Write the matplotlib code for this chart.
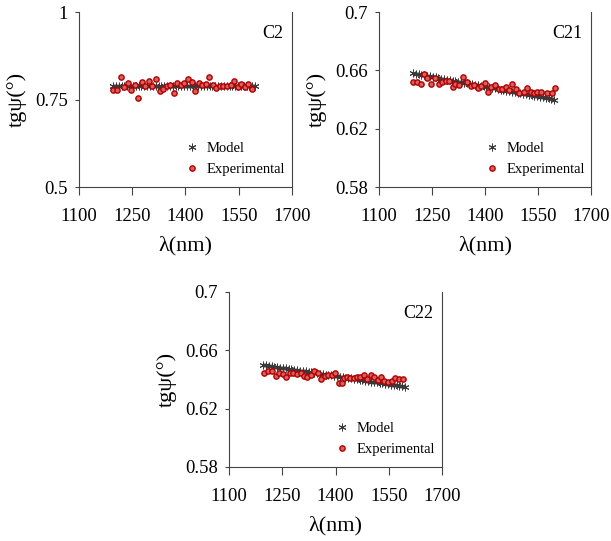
import matplotlib
matplotlib.use("Agg")
import matplotlib.pyplot as plt

plt.rcParams['font.family'] = ['Liberation Serif', 'DejaVu Serif']

# model wavelengths (nm), shared by all three panels
model_x = [1196, 1204, 1212, 1220, 1228, 1236, 1244, 1252, 1260, 1268,
           1276, 1284, 1292, 1300, 1308, 1316, 1324, 1332, 1340, 1348,
           1356, 1364, 1372, 1380, 1388, 1396, 1404, 1412, 1420, 1428,
           1436, 1444, 1452, 1460, 1468, 1476, 1484, 1492, 1500, 1508,
           1516, 1524, 1532, 1540, 1548, 1556, 1564, 1572, 1580, 1588, 1596]

c2_model = [0.789, 0.789, 0.789, 0.789, 0.789, 0.789, 0.789, 0.789, 0.789, 0.789,
            0.789, 0.789, 0.789, 0.789, 0.789, 0.789, 0.789, 0.789, 0.789, 0.789,
            0.789, 0.789, 0.789, 0.789, 0.789, 0.789, 0.789, 0.789, 0.789, 0.789,
            0.789, 0.789, 0.789, 0.789, 0.789, 0.789, 0.789, 0.789, 0.789, 0.789,
            0.789, 0.789, 0.789, 0.789, 0.789, 0.789, 0.789, 0.789, 0.789, 0.789, 0.789]

c21_model = [0.6580, 0.6576, 0.6573, 0.6569, 0.6566, 0.6562, 0.6558, 0.6555, 0.6551, 0.6548,
             0.6544, 0.6540, 0.6537, 0.6533, 0.6530, 0.6526, 0.6522, 0.6519, 0.6515, 0.6512,
             0.6508, 0.6504, 0.6501, 0.6497, 0.6494, 0.6490, 0.6486, 0.6483, 0.6479, 0.6476,
             0.6472, 0.6468, 0.6465, 0.6461, 0.6458, 0.6454, 0.6450, 0.6447, 0.6443, 0.6440,
             0.6436, 0.6432, 0.6429, 0.6425, 0.6422, 0.6418, 0.6414, 0.6411, 0.6407, 0.6404, 0.6400]

c22_model = [0.6500, 0.6497, 0.6494, 0.6491, 0.6488, 0.6485, 0.6482, 0.6479, 0.6476, 0.6473,
             0.6470, 0.6467, 0.6464, 0.6461, 0.6458, 0.6455, 0.6452, 0.6449, 0.6446, 0.6443,
             0.6440, 0.6437, 0.6434, 0.6431, 0.6428, 0.6425, 0.6422, 0.6419, 0.6416, 0.6413,
             0.6410, 0.6407, 0.6404, 0.6401, 0.6398, 0.6395, 0.6392, 0.6389, 0.6386, 0.6383,
             0.6380, 0.6377, 0.6374, 0.6371, 0.6368, 0.6365, 0.6362, 0.6359, 0.6356, 0.6353, 0.6350]

# experimental points
c2_x = [1197, 1207, 1217, 1227, 1237, 1247, 1257, 1267, 1277, 1287,
        1297, 1307, 1317, 1327, 1337, 1347, 1357, 1367, 1377, 1387,
        1397, 1407, 1417, 1427, 1437, 1447, 1457, 1467, 1477, 1487,
        1497, 1507, 1517, 1527, 1537, 1547, 1557, 1567, 1577, 1588]
c2_y = [0.776, 0.778, 0.813, 0.786, 0.796, 0.778, 0.792, 0.755, 0.799, 0.790,
        0.803, 0.790, 0.809, 0.773, 0.779, 0.788, 0.792, 0.769, 0.798, 0.792,
        0.796, 0.809, 0.801, 0.775, 0.796, 0.792, 0.794, 0.815, 0.792, 0.782,
        0.790, 0.789, 0.790, 0.792, 0.804, 0.787, 0.794, 0.787, 0.794, 0.780]

c21_x = [1197, 1208, 1218, 1228, 1237, 1248, 1258, 1270, 1277, 1289,
         1299, 1308, 1316, 1327, 1339, 1349, 1359, 1368, 1379, 1390,
         1399, 1408, 1418, 1427, 1439, 1447, 1458, 1468, 1477, 1488,
         1497, 1509, 1518, 1529, 1540, 1548, 1559, 1575, 1590, 1599]
c21_y = [0.6520, 0.6520, 0.6508, 0.6575, 0.6550, 0.6508, 0.6547, 0.6508, 0.6518, 0.6529,
         0.6525, 0.6483, 0.6508, 0.6499, 0.6554, 0.6520, 0.6492, 0.6502, 0.6479, 0.6490,
         0.6513, 0.6454, 0.6488, 0.6502, 0.6470, 0.6472, 0.6483, 0.6467, 0.6504, 0.6470,
         0.6442, 0.6451, 0.6479, 0.6451, 0.6442, 0.6449, 0.6449, 0.6442, 0.6442, 0.6479]

c22_x = [1199, 1211, 1221, 1231, 1242, 1252, 1261, 1272, 1281, 1292,
         1302, 1311, 1321, 1330, 1340, 1352, 1360, 1370, 1379, 1389,
         1399, 1409, 1417, 1425, 1432, 1441, 1451, 1461, 1470, 1479,
         1490, 1499, 1508, 1519, 1528, 1537, 1548, 1558, 1568, 1579, 1589]
c22_y = [0.6444, 0.6458, 0.6460, 0.6424, 0.6447, 0.6435, 0.6419, 0.6447, 0.6447, 0.6435,
         0.6442, 0.6424, 0.6419, 0.6433, 0.6456, 0.6442, 0.6401, 0.6424, 0.6433, 0.6433,
         0.6442, 0.6376, 0.6376, 0.6412, 0.6415, 0.6410, 0.6410, 0.6419, 0.6417, 0.6433,
         0.6401, 0.6429, 0.6419, 0.6396, 0.6419, 0.6392, 0.6385, 0.6392, 0.6410, 0.6405, 0.6405]

x_ticks = [1100, 1250, 1400, 1550, 1700]
c2_yticks = [0.5, 0.75, 1.0]
c2_ylabels = ["0.5", "0.75", "1"]
c2x_yticks = [0.58, 0.62, 0.66, 0.7]
c2x_ylabels = ["0.58", "0.62", "0.66", "0.7"]

fig = plt.figure(figsize=(6.11, 5.41), dpi=100)

panels = [
    ([0.1293, 0.6543, 0.3486, 0.3235], "C2", c2_model, c2_x, c2_y, (0.5, 1.0), c2_yticks, c2_ylabels),
    ([0.6203, 0.6543, 0.3470, 0.3235], "C21", c21_model, c21_x, c21_y, (0.58, 0.7), c2x_yticks, c2x_ylabels),
    ([0.3748, 0.1368, 0.3486, 0.3235], "C22", c22_model, c22_x, c22_y, (0.58, 0.7), c2x_yticks, c2x_ylabels),
]

star = (6, 2, 0)
for rect, name, model_y, ex, ey, ylim, yt, yl in panels:
    ax = fig.add_axes(rect)
    ax.plot(model_x, model_y, linestyle="none", marker=star, markersize=5.5,
            markeredgewidth=0.7, color="#3a3a3a", label="Model")
    ax.plot(ex, ey, linestyle="none", marker="o", markersize=3.8,
            markerfacecolor="#d86060", markeredgecolor="#b00000",
            markeredgewidth=1.0, label="Experimental")
    ax.set_xlim(1100, 1700)
    ax.set_ylim(*ylim)
    ax.set_xticks(x_ticks)
    ax.set_yticks(yt)
    ax.set_yticklabels(yl)
    ax.tick_params(direction="out", width=0.8, colors="#444444",
                   labelcolor="black", labelsize=13.5)
    ax.tick_params(axis="x", length=6, pad=9)
    ax.tick_params(axis="y", length=3, pad=5)
    ax.spines["top"].set_visible(False)
    for s in ["left", "bottom", "right"]:
        ax.spines[s].set_color("#444444")
        ax.spines[s].set_linewidth(0.8)
    ax.set_xlabel("λ(nm)", fontsize=16, labelpad=8)
    ax.set_ylabel("tgψ(°)", fontsize=16, labelpad=6)
    ax.text(0.96, 0.83, name, transform=ax.transAxes, ha="right", va="bottom",
            fontsize=13)
    ax.legend(loc="lower left", bbox_to_anchor=(0.47, 0.03), frameon=False,
              fontsize=10.5, handlelength=1.0, handletextpad=0.5,
              labelspacing=0.5, borderaxespad=0)

fig.savefig("out.png", dpi=100)
